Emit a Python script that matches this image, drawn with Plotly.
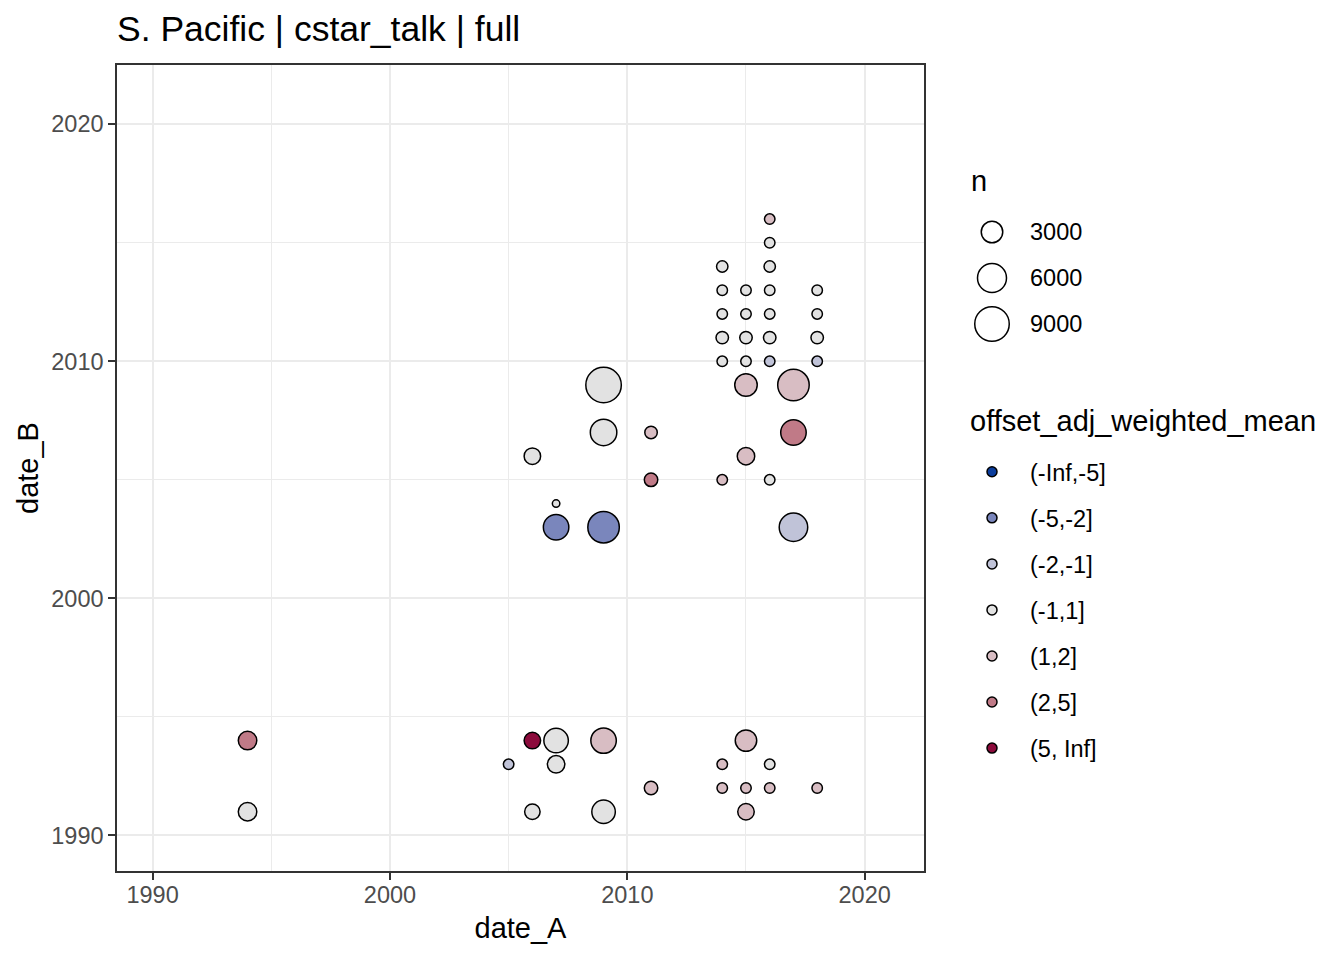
import numpy as np
import plotly.graph_objects as go

# ---- data ----
date_A = [1994, 1994, 2005, 2006, 2006, 2006, 2007, 2007, 2007, 2007,
          2009, 2009, 2009, 2009, 2009, 2011, 2011, 2011,
          2014, 2014, 2014, 2014, 2014, 2014, 2014, 2014,
          2015, 2015, 2015, 2015, 2015, 2015, 2015, 2015, 2015,
          2016, 2016, 2016, 2016, 2016, 2016, 2016, 2016, 2016, 2016,
          2017, 2017, 2017, 2018, 2018, 2018, 2018, 2018]
date_B = [1994, 1991, 1993, 1994, 1991, 2006, 1994, 1993, 2003, 2004,
          1994, 1991, 2003, 2007, 2009, 1992, 2005, 2007,
          1993, 1992, 2005, 2010, 2011, 2012, 2013, 2014,
          1994, 1992, 1991, 2006, 2009, 2010, 2011, 2012, 2013,
          1993, 1992, 2005, 2010, 2011, 2012, 2013, 2014, 2015, 2016,
          2003, 2007, 2009, 1992, 2010, 2011, 2012, 2013]
n = [2160, 2160, 900, 1710, 1510, 1710, 4050, 1920, 4440, 800,
     4440, 3680, 7280, 4860, 9620, 1200, 1200, 1080,
     900, 900, 900, 900, 1080, 900, 900, 970,
     3000, 900, 1710, 1920, 3330, 900, 1080, 900, 900,
     900, 900, 900, 900, 1080, 900, 900, 970, 900, 900,
     5760, 4440, 7280, 900, 900, 1080, 900, 900]
offset_bin = ["(2,5]", "(-1,1]", "(-2,-1]", "(5, Inf]", "(-1,1]", "(-1,1]", "(-1,1]", "(-1,1]", "(-5,-2]", "(-1,1]",
              "(1,2]", "(-1,1]", "(-5,-2]", "(-1,1]", "(-1,1]", "(1,2]", "(2,5]", "(1,2]",
              "(1,2]", "(1,2]", "(1,2]", "(-1,1]", "(-1,1]", "(-1,1]", "(-1,1]", "(-1,1]",
              "(1,2]", "(1,2]", "(1,2]", "(1,2]", "(1,2]", "(-1,1]", "(-1,1]", "(-1,1]", "(-1,1]",
              "(-1,1]", "(1,2]", "(-1,1]", "(-2,-1]", "(-1,1]", "(-1,1]", "(-1,1]", "(-1,1]", "(-1,1]", "(1,2]",
              "(-2,-1]", "(2,5]", "(1,2]", "(1,2]", "(-2,-1]", "(-1,1]", "(-1,1]", "(-1,1]"]

bins = ["(-Inf,-5]", "(-5,-2]", "(-2,-1]", "(-1,1]", "(1,2]", "(2,5]", "(5, Inf]"]
bin_colors = ["#0B3D9C", "#7A86BC", "#C0C3D8", "#E2E2E2", "#D8BDC3", "#C07A87", "#8C0B3C"]
size_breaks = [3000, 6000, 9000]

# ggplot-like area scale: diameter in px
N_MIN, N_MAX = min(n), max(n)
def size_px(v):
    return 9 + 28 * np.sqrt((np.asarray(v, dtype=float) - N_MIN) / (N_MAX - N_MIN))

FONT = "Liberation Sans"
LW = 1.5
OFF = 8  # page body margin
FW, FH = 1344 - OFF, 960 - OFF
# plot area in (page) pixels
L, R, T, B = 117, 924, 65, 871
W, H = R - L, B - T
def px_x(p): return (p - L) / W
def px_y(p): return (B - p) / H

fig = go.Figure()

A = np.array(date_A); Bv = np.array(date_B); N = np.array(n); cat = np.array(offset_bin)
for b, c in zip(bins, bin_colors):
    m = cat == b
    if m.any():
        fig.add_trace(go.Scatter(x=A[m], y=Bv[m], mode="markers", showlegend=False,
                                 marker=dict(size=size_px(N[m]) - LW, color=c, opacity=1,
                                             line=dict(color="black", width=LW))))
    # legend key
    fig.add_trace(go.Scatter(x=[None], y=[None], mode="markers", name=b, legendgroup=b,
                             marker=dict(size=10, color=c, line=dict(color="black", width=LW))))

# size legend (drawn by hand since plotly caps legend marker size)
shapes = []
annotations = [dict(text="n", x=px_x(969), y=px_y(181), xref="paper", yref="paper",
                    xanchor="left", yanchor="middle", showarrow=False,
                    font=dict(size=29, color="black", family=FONT)),
               dict(text="offset_adj_weighted_mean", x=px_x(968), y=px_y(421), xref="paper", yref="paper",
                    xanchor="left", yanchor="middle", showarrow=False,
                    font=dict(size=29, color="black", family=FONT))]
for i, s in enumerate(size_breaks):
    yc = px_y(232 + 46 * i)
    d = float(size_px(s)) - LW
    shapes.append(dict(type="circle", xref="paper", yref="paper", xsizemode="pixel", ysizemode="pixel",
                       xanchor=px_x(992), yanchor=yc, x0=-d / 2, x1=d / 2, y0=-d / 2, y1=d / 2,
                       line=dict(color="black", width=LW), fillcolor="white"))
    annotations.append(dict(text=str(s), x=px_x(1028), y=yc, xref="paper", yref="paper",
                            xanchor="left", yanchor="middle", showarrow=False,
                            font=dict(size=23.5, color="black", family=FONT)))

axis_common = dict(range=[1988.5, 2022.5], dtick=10, tick0=1990, showgrid=True,
                   gridcolor="#EBEBEB", gridwidth=2, zeroline=False,
                   showline=True, mirror=True, linecolor="#333333", linewidth=1.5,
                   ticks="outside", ticklen=7, tickwidth=2, tickcolor="#333333",
                   tickfont=dict(size=23.5, color="#4D4D4D", family=FONT),
                   minor=dict(dtick=5, tick0=1990, showgrid=True, gridcolor="#EBEBEB", gridwidth=1))

fig.update_layout(
    width=FW, height=FH,
    margin=dict(l=L - OFF, r=FW - (R - OFF), t=T - OFF, b=FH - (B - OFF), autoexpand=False),
    paper_bgcolor="white", plot_bgcolor="white",
    font=dict(family=FONT, color="black"),
    title=dict(text="S. Pacific | cstar_talk | full", x=0, xref="paper", xanchor="left",
               y=1 - (29 - OFF) / FH, yanchor="middle", font=dict(size=35.5, color="black", family=FONT)),
    xaxis=dict(axis_common, title=dict(text="date_A", font=dict(size=29), standoff=11),
               ticklabelstandoff=-5),
    yaxis=dict(axis_common, title=dict(text="date_B", font=dict(size=29), standoff=4)),
    legend=dict(x=px_x(954), y=px_y(450), xanchor="left", yanchor="top",
                font=dict(size=23.5), tracegroupgap=12.5, itemwidth=66, itemsizing="trace",
                bgcolor="rgba(0,0,0,0)"),
    shapes=shapes, annotations=annotations,
)

fig.write_html("out.html")
